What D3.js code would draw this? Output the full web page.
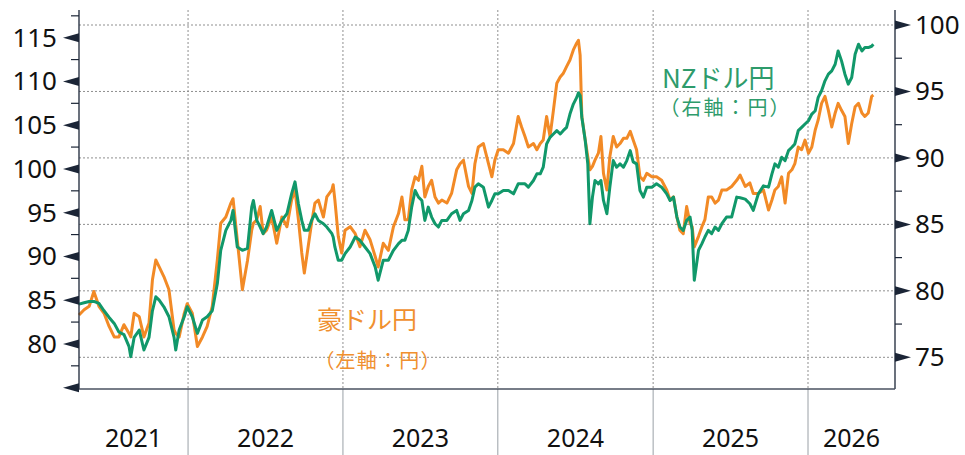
<!DOCTYPE html>
<html><head><meta charset="utf-8">
<script src="https://cdn.jsdelivr.net/npm/d3@7"></script>
<style>body{margin:0;background:#fff} svg{display:block}</style>
</head><body>
<svg id="chart" width="965" height="455"></svg>
<script>
const dates = ["2021-04-19","2021-05-01","2021-05-13","2021-05-24","2021-06-05","2021-06-17","2021-06-29","2021-07-11","2021-07-22","2021-08-03","2021-08-15","2021-08-19","2021-08-27","2021-09-08","2021-09-19","2021-10-01","2021-10-09","2021-10-17","2021-10-25","2021-11-05","2021-11-17","2021-11-29","2021-12-03","2021-12-11","2021-12-23","2021-12-30",
"2022-01-11","2022-01-23","2022-02-04","2022-02-15","2022-02-27","2022-03-11","2022-03-19","2022-03-31","2022-04-12","2022-04-17","2022-04-27","2022-05-09","2022-05-21","2022-05-31","2022-06-04","2022-06-12","2022-06-20","2022-06-27","2022-07-05","2022-07-17","2022-07-29","2022-08-10","2022-08-22","2022-09-02","2022-09-10","2022-09-18","2022-09-26","2022-10-02","2022-10-11","2022-10-19","2022-10-27","2022-11-04","2022-11-16","2022-11-24","2022-12-06","2022-12-09","2022-12-13","2022-12-21","2022-12-29",
"2023-01-06","2023-01-18","2023-01-30","2023-02-10","2023-02-22","2023-03-06","2023-03-18","2023-03-25","2023-04-06","2023-04-18","2023-04-30","2023-05-12","2023-05-20","2023-05-27","2023-06-04","2023-06-12","2023-06-20","2023-06-28","2023-07-06","2023-07-13","2023-07-21","2023-07-29","2023-08-06","2023-08-14","2023-08-22","2023-09-03","2023-09-14","2023-09-26","2023-10-04","2023-10-12","2023-10-24","2023-11-01","2023-11-08","2023-11-16","2023-11-28","2023-12-10","2023-12-18","2023-12-25",
"2024-01-02","2024-01-14","2024-01-26","2024-02-07","2024-02-18","2024-02-26","2024-03-05","2024-03-13","2024-03-25","2024-04-02","2024-04-10","2024-04-17","2024-04-25","2024-05-03","2024-05-11","2024-05-19","2024-05-27","2024-06-03","2024-06-11","2024-06-19","2024-06-27","2024-07-05","2024-07-09","2024-07-13","2024-07-17","2024-07-25","2024-07-31","2024-08-05","2024-08-11","2024-08-17","2024-08-25","2024-08-31","2024-09-06","2024-09-14","2024-09-21","2024-09-29","2024-10-07","2024-10-15","2024-10-23","2024-10-31","2024-11-08","2024-11-15","2024-11-23","2024-12-01","2024-12-09","2024-12-17","2024-12-29",
"2025-01-09","2025-01-21","2025-02-02","2025-02-10","2025-02-18","2025-02-26","2025-03-05","2025-03-13","2025-03-21","2025-03-29","2025-04-03","2025-04-08","2025-04-18","2025-04-26","2025-05-03","2025-05-11","2025-05-19","2025-05-27","2025-06-04","2025-06-12","2025-06-23","2025-07-05","2025-07-17","2025-07-25","2025-08-06","2025-08-17","2025-08-25","2025-09-06","2025-09-18","2025-09-30","2025-10-08","2025-10-15","2025-10-23","2025-10-31","2025-11-08","2025-11-16","2025-11-24","2025-12-01","2025-12-09","2025-12-17","2025-12-25",
"2026-01-02","2026-01-10","2026-01-18","2026-01-25","2026-02-02","2026-02-10","2026-02-18","2026-02-26","2026-03-06","2026-03-13","2026-03-21","2026-03-29","2026-04-06","2026-04-14","2026-04-22","2026-04-30","2026-05-08","2026-05-15","2026-05-23","2026-05-31","2026-06-04"];

// 豪ドル円 (left axis)
const audJpy = [83.3,83.9,84.3,86.0,84.3,83.5,82.0,80.8,80.8,82.2,81.2,80.8,83.5,83.1,80.8,82.4,87.3,89.6,88.8,87.7,86.2,81.6,81.2,80.8,83.5,84.6,
83.5,79.7,80.8,82.0,84.3,89.6,93.8,94.5,96.1,96.6,91.9,86.2,89.5,93.0,93.8,94.2,95.7,92.6,93.0,94.5,91.5,94.5,93.4,96.45,97.6,94.2,90.4,88.1,91.1,93.8,96.1,96.45,94.5,96.8,97.6,98.2,96.45,92.3,90.4,
93.0,93.4,92.6,91.1,93.0,91.9,90.0,88.8,91.5,90.7,93.4,94.9,96.8,94.2,94.2,97.6,99.1,98.7,100.3,96.8,98.0,98.7,96.8,96.1,96.45,96.1,97.2,99.9,100.6,101.0,98.0,97.2,100.6,102.5,102.9,100.6,99.1,101.0,
102.2,102.2,101.8,102.9,106.0,104.8,103.7,102.5,102.9,102.2,102.9,103.3,106.0,103.7,106.7,109.8,110.5,110.9,111.7,112.45,113.6,114.4,114.7,113.0,106.0,103.3,101.4,99.9,100.3,101.0,101.8,103.7,99.5,97.6,101.4,103.7,102.5,102.9,103.5,103.5,104.3,103.3,102.2,99.1,98.7,99.5,99.1,
99.1,98.7,97.6,96.45,96.8,94.5,93.0,92.6,95.7,93.8,93.4,91.1,92.3,93.4,94.2,96.8,96.8,96.1,96.45,97.6,97.6,98.0,98.7,99.3,98.0,98.4,97.2,97.2,97.6,95.3,96.45,97.6,98.0,99.1,96.1,99.5,99.9,100.6,102.5,102.2,103.3,
101.8,102.5,104.45,105.6,107.5,108.3,106.7,104.8,106.4,107.5,106.7,106.0,102.9,105.2,107.1,107.5,106.4,106.0,106.4,108.3,108.45];

// NZドル円 (right axis)
const nzdJpy = [79.0,79.1,79.2,79.2,79.05,78.5,78.0,77.55,76.9,76.7,75.8,75.05,76.5,77.05,75.55,76.5,78.5,79.55,79.3,78.8,78.05,76.5,75.55,77.05,78.05,78.8,
78.05,76.8,77.8,78.05,78.5,80.55,83.05,84.55,85.3,86.05,83.3,83.05,83.2,86.3,86.8,85.3,84.8,84.3,84.8,86.05,84.55,85.3,85.8,87.3,88.2,86.55,85.3,84.55,84.55,85.3,85.8,85.3,85.05,84.8,84.3,84.05,83.3,82.3,82.3,
82.8,83.3,84.05,83.8,83.3,82.8,81.8,80.8,82.3,82.3,83.05,83.55,83.8,83.8,84.55,86.3,87.55,87.05,86.8,85.3,86.3,85.55,85.05,84.8,85.3,85.3,85.8,86.05,85.3,85.8,86.05,86.8,87.8,88.05,87.8,86.3,86.8,87.3,
87.3,87.55,87.55,87.3,88.05,88.05,88.05,87.8,88.3,88.8,88.8,89.3,91.05,91.55,91.8,92.05,91.8,92.05,92.3,93.3,94.05,94.55,94.9,94.7,93.05,91.3,89.55,85.05,87.05,88.3,88.05,88.3,86.8,85.8,87.8,89.8,89.3,89.55,89.3,89.8,90.55,89.7,89.55,87.55,87.05,87.8,87.8,
88.05,87.8,87.3,86.8,87.05,85.55,84.8,84.55,85.3,85.55,84.55,80.8,83.05,83.55,84.05,84.55,84.3,84.8,84.55,85.05,85.55,85.55,87.05,87.0,86.9,86.55,86.05,87.3,87.9,87.8,88.8,89.55,89.3,90.05,89.8,90.55,90.8,91.05,92.05,92.3,92.55,
92.8,93.3,93.55,94.55,95.05,95.8,96.3,96.55,97.05,98.05,97.3,96.3,95.55,96.05,97.8,98.55,98.05,98.3,98.3,98.4,98.55];

const leftTicks = [75,80,85,90,95,100,105,110,115];
const leftLabels = [80,85,90,95,100,105,110,115];
const leftMinor = [77.5,82.5,87.5,92.5,97.5,102.5,107.5,112.5,117.5];
const rightTicks = [75,80,85,90,95,100];
const rightMinor = [77.5,82.5,87.5,92.5,97.5];
const yearBreaks = ["2022-01-01","2023-01-01","2024-01-01","2025-01-01","2026-01-01"];
const yearLabels = ["2021","2022","2023","2024","2025","2026"];
const xDomain = ["2021-04-19","2026-07-25"];

const parse = d3.utcParse("%Y-%m-%d");
const svg = d3.select("#chart");
const L = 79, R = 895, T = 10, B = 389;
const numFont = "'Noto Sans', 'DejaVu Sans', sans-serif";
const jpFont = "'Noto Sans CJK JP', 'Noto Sans', sans-serif";
const axisColor = "#1b2536";
const orange = "#F28A26";
const green = "#11986A";

const x = d3.scaleUtc().domain(xDomain.map(parse)).range([L, R]);
const yL = d3.scaleLinear().domain([75, 115]).range([387.7, 37.7]);
const yR = d3.scaleLinear().domain([75, 100]).range([357.3, 25]);

// gridlines (horizontal at right axis ticks)
svg.append("g").selectAll("line").data(rightTicks).join("line")
  .attr("x1", L).attr("x2", R).attr("y1", d => yR(d)).attr("y2", d => yR(d))
  .attr("stroke", "#8f8f8f").attr("stroke-width", 1).attr("stroke-dasharray", "2,2");
// vertical dotted at year breaks
svg.append("g").selectAll("line").data(yearBreaks.map(parse)).join("line")
  .attr("x1", d => x(d)).attr("x2", d => x(d)).attr("y1", T).attr("y2", B)
  .attr("stroke", "#8f8f8f").attr("stroke-width", 1).attr("stroke-dasharray", "2,2");
// separators below axis
svg.append("g").selectAll("line").data(yearBreaks.map(parse)).join("line")
  .attr("x1", d => x(d)).attr("x2", d => x(d)).attr("y1", B).attr("y2", 455)
  .attr("stroke", "#9aa0a6").attr("stroke-width", 1);

const pts = dates.map((d, i) => ({ d: parse(d), a: audJpy[i], n: nzdJpy[i] }));

svg.append("path").datum(pts)
  .attr("fill", "none").attr("stroke", orange).attr("stroke-width", 3).attr("stroke-linejoin", "round")
  .attr("d", d3.line().x(p => x(p.d)).y(p => yL(p.a)));
svg.append("path").datum(pts)
  .attr("fill", "none").attr("stroke", green).attr("stroke-width", 3).attr("stroke-linejoin", "round")
  .attr("d", d3.line().x(p => x(p.d)).y(p => yR(p.n)));

// axis lines
svg.append("line").attr("x1", L).attr("x2", L).attr("y1", T).attr("y2", B).attr("stroke", axisColor).attr("stroke-width", 1.3);
svg.append("line").attr("x1", R).attr("x2", R).attr("y1", T).attr("y2", B).attr("stroke", axisColor).attr("stroke-width", 1.3);
svg.append("line").attr("x1", L).attr("x2", R).attr("y1", B).attr("y2", B).attr("stroke", "#4a5260").attr("stroke-width", 1.3);

// left arrows and minor ticks
svg.append("g").selectAll("path").data(leftTicks).join("path")
  .attr("d", d => `M${L},${yL(d) - 4.5}L${L - 16},${yL(d)}L${L},${yL(d) + 4.5}Z`).attr("fill", axisColor);
svg.append("g").selectAll("line").data(leftMinor).join("line")
  .attr("x1", L - 8).attr("x2", L).attr("y1", d => yL(d)).attr("y2", d => yL(d))
  .attr("stroke", axisColor).attr("stroke-width", 1.2);
// right arrows and minor ticks
svg.append("g").selectAll("path").data(rightTicks).join("path")
  .attr("d", d => `M${R},${yR(d) - 4.5}L${R + 16},${yR(d)}L${R},${yR(d) + 4.5}Z`).attr("fill", axisColor);
svg.append("g").selectAll("line").data(rightMinor).join("line")
  .attr("x1", R).attr("x2", R + 7).attr("y1", d => yR(d)).attr("y2", d => yR(d))
  .attr("stroke", axisColor).attr("stroke-width", 1.2);

// axis labels via d3 axes
const gL = svg.append("g").attr("transform", `translate(${L},0)`)
  .call(d3.axisLeft(yL).tickValues(leftLabels).tickSize(0).tickPadding(22));
const gR = svg.append("g").attr("transform", `translate(${R},0)`)
  .call(d3.axisRight(yR).tickValues(rightTicks).tickSize(0).tickPadding(20));
[gL, gR].forEach(g => {
  g.select(".domain").remove();
  g.selectAll("text").attr("font-family", numFont).attr("font-size", 26).attr("fill", "#111");
});

// year labels centered in each visible year
const edges = [x.domain()[0], ...yearBreaks.map(parse), x.domain()[1]];
svg.append("g").selectAll("text").data(yearLabels).join("text")
  .attr("x", (d, i) => (x(edges[i]) + x(edges[i + 1])) / 2)
  .attr("y", 447)
  .attr("text-anchor", "middle")
  .attr("font-family", numFont).attr("font-size", 25).attr("fill", "#111")
  .text(d => d);

// series labels
svg.append("text").attr("x", 662).attr("y", 76).attr("dominant-baseline", "central")
  .attr("font-family", jpFont).attr("font-size", 26).attr("fill", "#2E9B6B").text("NZドル円");
svg.append("text").attr("x", 659.4).attr("y", 106.5).attr("dominant-baseline", "central")
  .attr("font-family", jpFont).attr("font-size", 20).attr("fill", "#2E9B6B")
  .attr("textLength", 130).attr("lengthAdjust", "spacing").text("（右軸：円）");
svg.append("text").attr("x", 317).attr("y", 317.5).attr("dominant-baseline", "central")
  .attr("font-family", jpFont).attr("font-size", 25).attr("fill", "#F0902F").text("豪ドル円");
svg.append("text").attr("x", 314.4).attr("y", 359).attr("dominant-baseline", "central")
  .attr("font-family", jpFont).attr("font-size", 20).attr("fill", "#F0902F")
  .attr("textLength", 126).attr("lengthAdjust", "spacing").text("（左軸：円）");
</script>
</body></html>
